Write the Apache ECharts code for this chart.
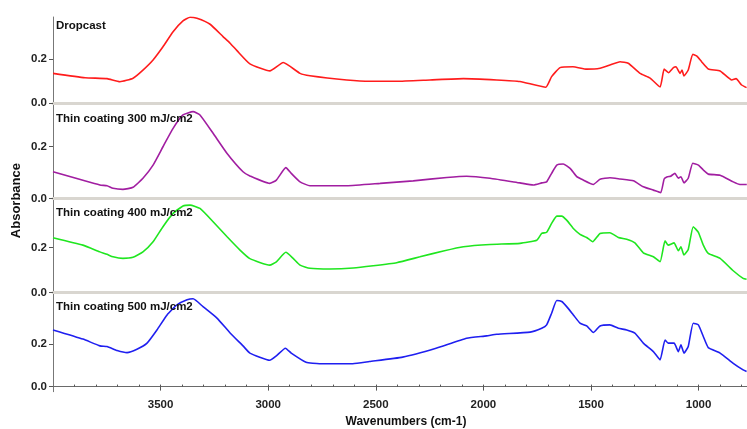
<!DOCTYPE html>
<html>
<head>
<meta charset="utf-8">
<script src="https://cdn.jsdelivr.net/npm/echarts@6/dist/echarts.min.js"></script>
<style>
  html, body { margin: 0; padding: 0; background: #fff; }
  #chart { width: 747px; height: 429px; }
</style>
</head>
<body>
<div id="chart"></div>
<script>
// FTIR spectra, wavenumber (cm-1) vs absorbance, one panel per coating
const panelTitles = ['Dropcast', 'Thin coating 300 mJ/cm2', 'Thin coating 400 mJ/cm2', 'Thin coating 500 mJ/cm2'];
const xTickLabels = [1000, 1500, 2000, 2500, 3000, 3500];
const yTickLabels = [0.0, 0.2];

const wnDropcast = [4000,3851,3749,3689,3628,3582,3535,3489,3442,3396,3363,3331,3270,3210,3177,3145,3085,2992,2930,2852,2806,2635,2527,2403,2248,2093,1938,1830,1710,1683,1644,1584,1520,1458,1412,1365,1327,1272,1225,1179,1160,1140,1117,1105,1086,1077,1068,1048,1027,1009,986,955,900,846,826,800,777];
const absDropcast = [0.136,0.116,0.112,0.098,0.114,0.151,0.197,0.257,0.325,0.374,0.391,0.386,0.359,0.303,0.273,0.239,0.179,0.147,0.185,0.136,0.125,0.106,0.100,0.100,0.106,0.112,0.106,0.099,0.073,0.121,0.162,0.166,0.155,0.159,0.174,0.189,0.182,0.136,0.114,0.074,0.155,0.139,0.162,0.166,0.136,0.151,0.124,0.151,0.223,0.215,0.189,0.156,0.147,0.106,0.112,0.083,0.071];

const wn300 = [4000,3782,3749,3721,3675,3628,3582,3535,3489,3442,3396,3349,3317,3256,3191,3117,3085,2993,2962,2918,2893,2852,2806,2635,2480,2326,2170,2078,1969,1830,1768,1729,1706,1683,1659,1629,1597,1566,1543,1489,1458,1412,1365,1303,1257,1210,1176,1160,1145,1130,1110,1094,1082,1068,1048,1027,1001,978,955,900,839,808,776];
const abs300 = [0.103,0.052,0.049,0.039,0.035,0.043,0.078,0.129,0.200,0.271,0.323,0.336,0.323,0.252,0.174,0.103,0.087,0.058,0.071,0.119,0.097,0.064,0.049,0.049,0.058,0.068,0.081,0.086,0.078,0.060,0.052,0.060,0.064,0.097,0.129,0.133,0.116,0.084,0.074,0.054,0.074,0.080,0.075,0.068,0.045,0.032,0.022,0.075,0.084,0.086,0.097,0.078,0.084,0.060,0.078,0.136,0.129,0.110,0.094,0.090,0.064,0.054,0.054];

const wn400 = [4000,3861,3782,3749,3721,3675,3628,3582,3535,3489,3442,3396,3363,3317,3256,3191,3131,3085,2993,2962,2918,2884,2852,2806,2713,2605,2512,2403,2295,2186,2093,1969,1830,1752,1729,1706,1683,1659,1636,1613,1582,1551,1520,1492,1458,1412,1373,1334,1296,1257,1210,1179,1156,1141,1114,1094,1082,1068,1048,1025,1001,978,955,900,839,793,777];
const abs400 = [0.243,0.210,0.180,0.169,0.158,0.151,0.156,0.180,0.225,0.292,0.351,0.384,0.388,0.373,0.314,0.247,0.188,0.150,0.121,0.136,0.178,0.151,0.121,0.107,0.104,0.108,0.118,0.132,0.158,0.184,0.203,0.213,0.218,0.232,0.262,0.267,0.307,0.339,0.339,0.321,0.284,0.258,0.244,0.225,0.262,0.265,0.244,0.236,0.220,0.176,0.158,0.136,0.229,0.210,0.220,0.185,0.203,0.166,0.191,0.292,0.267,0.210,0.173,0.151,0.096,0.062,0.058];

const wn500 = [4000,3861,3782,3749,3702,3656,3610,3563,3517,3470,3424,3377,3349,3303,3238,3177,3117,3085,2993,2962,2920,2893,2824,2762,2607,2530,2375,2220,2078,1985,1938,1783,1729,1706,1683,1659,1636,1613,1582,1551,1520,1489,1458,1412,1373,1334,1296,1257,1210,1179,1156,1141,1114,1094,1082,1068,1048,1025,1001,978,955,900,839,793,777];
const abs500 = [0.267,0.224,0.192,0.189,0.170,0.160,0.176,0.205,0.267,0.338,0.385,0.409,0.414,0.377,0.323,0.253,0.192,0.158,0.124,0.145,0.181,0.158,0.115,0.108,0.108,0.118,0.139,0.181,0.228,0.239,0.247,0.257,0.275,0.291,0.346,0.406,0.401,0.377,0.338,0.299,0.286,0.255,0.286,0.291,0.275,0.267,0.252,0.205,0.165,0.126,0.220,0.205,0.205,0.165,0.197,0.158,0.189,0.299,0.291,0.236,0.184,0.158,0.110,0.079,0.071];

const spectra = [
  { wn: wnDropcast, abs: absDropcast, color: '#ff1c1c' },
  { wn: wn300, abs: abs300, color: '#a11ea1' },
  { wn: wn400, abs: abs400, color: '#1fe61f' },
  { wn: wn500, abs: abs500, color: '#1f1ff0' }
];

// panel layout (pixels) and absorbance range of each panel
const panels = [
  { top: 17,    height: 92,   min: -0.026, max: 0.392 },
  { top: 109.3, height: 94,   min: -0.019, max: 0.345 },
  { top: 203.3, height: 94,   min: -0.022, max: 0.396 },
  { top: 297.3, height: 94.4, min: -0.024, max: 0.421 }
];

const FONT = "'Liberation Sans', Arial, sans-serif";
const X_MIN = 775, X_MAX = 4000;

const xMinor = [];
for (let v = 800; v <= 3900; v += 100) xMinor.push(v);

const grids = [], xAxes = [], yAxes = [], series = [], titles = [];

panels.forEach((p, i) => {
  grids.push({ left: 53, right: 0, top: p.top, height: p.height, containLabel: false, outerBoundsMode: 'none' });
  const isLast = i === panels.length - 1;
  // main x axis: grey separator under the upper panels, labelled axis under the last one
  xAxes.push({
    type: 'value', gridIndex: i, min: X_MIN, max: X_MAX, inverse: true,
    splitLine: { show: false },
    axisLine: isLast ? { show: true, lineStyle: { color: '#6a6a6a', width: 1 } }
                     : { show: true, lineStyle: { color: '#d9d6d0', width: 3 } },
    axisTick: isLast ? { show: true, customValues: xTickLabels, length: 4, lineStyle: { color: '#555' } } : { show: false },
    axisLabel: isLast ? { show: true, customValues: xTickLabels, margin: 7, formatter: v => String(v),
                          fontFamily: FONT, fontWeight: 'bold', fontSize: 11.5, color: '#222' } : { show: false }
  });
  if (isLast) {
    // 100 cm-1 minor ticks
    xAxes.push({
      type: 'value', gridIndex: i, min: X_MIN, max: X_MAX, inverse: true,
      splitLine: { show: false }, axisLine: { show: false },
      axisTick: { show: true, customValues: xMinor, length: 2, lineStyle: { color: '#555' } },
      axisLabel: { show: false }
    });
  }
  const yMinor = [];
  for (let v = 0; v <= p.max + 1e-9; v += 0.05) yMinor.push(+v.toFixed(2));
  yAxes.push({
    type: 'value', gridIndex: i, min: p.min, max: p.max,
    splitLine: { show: false },
    axisLine: { show: true, lineStyle: { color: '#777', width: 1 } },
    axisTick: { show: true, customValues: yTickLabels, length: 4, lineStyle: { color: '#555' } },
    axisLabel: { show: true, customValues: yTickLabels, margin: 6, formatter: v => v.toFixed(1),
                 fontFamily: FONT, fontWeight: 'bold', fontSize: 11.5, color: '#222' }
  });
  yAxes.push({
    type: 'value', gridIndex: i, min: p.min, max: p.max,
    splitLine: { show: false }, axisLine: { show: false },
    axisTick: { show: true, customValues: yMinor, length: 2, lineStyle: { color: '#666' } },
    axisLabel: { show: false }
  });
  titles.push({
    text: panelTitles[i], left: 56, top: p.top + (i === 0 ? 3 : 4),
    textStyle: { fontFamily: FONT, fontWeight: 'bold', fontSize: 11.5, color: '#111' }, padding: 0
  });
});

let xIdx = 0;
spectra.forEach((s, i) => {
  series.push({
    type: 'line', xAxisIndex: xIdx, yAxisIndex: i * 2, showSymbol: false, silent: true,
    smooth: 0.15,
    data: s.wn.map((w, k) => [w, s.abs[k]]),
    lineStyle: { color: s.color, width: 1.6 }, itemStyle: { color: s.color }, animation: false
  });
  xIdx += 1;
});

const chart = echarts.init(document.getElementById('chart'), null, { renderer: 'canvas' });
chart.setOption({
  backgroundColor: '#ffffff',
  animation: false,
  title: titles,
  grid: grids,
  xAxis: xAxes,
  yAxis: yAxes,
  series: series,
  graphic: [
    { type: 'text', left: 10, top: 163, rotation: Math.PI / 2, originX: 0, originY: 0,
      style: { text: 'Absorbance', font: "bold 13px 'Liberation Sans', Arial, sans-serif", fill: '#111' } },
    { type: 'text', x: 406, y: 416,
      style: { text: 'Wavenumbers (cm-1)', font: "bold 12px 'Liberation Sans', Arial, sans-serif", fill: '#111', align: 'center' } }
  ]
});
</script>
</body>
</html>
